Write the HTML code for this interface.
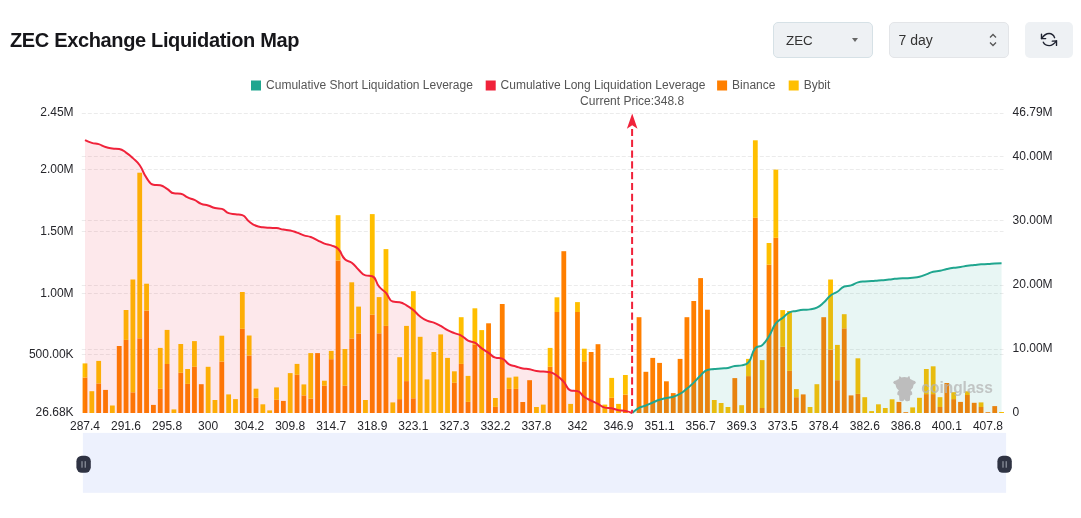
<!DOCTYPE html>
<html><head><meta charset="utf-8"><title>ZEC Exchange Liquidation Map</title>
<style>
html,body{margin:0;padding:0;background:#fff;}
body{width:1081px;height:518px;overflow:hidden;position:relative;-webkit-font-smoothing:antialiased;font-family:"Liberation Sans",Arial,sans-serif;}
svg text{font-family:"Liberation Sans",Arial,sans-serif;}
.gs{will-change:transform;}
.title{position:absolute;left:9.5px;top:27.5px;letter-spacing:-0.35px;font-size:20px;line-height:24px;font-weight:bold;color:#16161a;white-space:nowrap;}
.box{position:absolute;top:22px;height:36px;box-sizing:border-box;background:#EEF1F4;border-radius:5px;font-size:14px;color:#333;}
.sel{left:773px;width:100px;border:1px solid #D6E1E6;}
.sel span{position:absolute;left:12px;top:9.5px;line-height:16px;font-size:13.4px;}
.caret{position:absolute;left:78px;top:15.3px;width:0;height:0;border-left:3.5px solid transparent;border-right:3.5px solid transparent;border-top:4.5px solid #666;}
.day{left:889px;width:120px;border:1px solid #E3E5E8;}
.day span{position:absolute;left:8.5px;top:9px;line-height:16px;}
.ref{left:1025px;width:48px;height:36px;}
</style></head><body>
<div class="title gs">ZEC Exchange Liquidation Map</div>
<div class="box sel gs"><span>ZEC</span><i class="caret"></i></div>
<div class="box day gs"><span>7 day</span>
<svg width="8" height="14" viewBox="0 0 8 14" style="position:absolute;left:99px;top:10px"><path d="M1,4.5 L4,1.5 L7,4.5 M1,9.5 L4,12.5 L7,9.5" fill="none" stroke="#555" stroke-width="1.3"/></svg></div>
<div class="box ref gs"><svg width="24" height="22" viewBox="0 0 24 22" style="position:absolute;left:12px;top:7px"><g fill="none" stroke="#1e2230" stroke-width="1.4" stroke-linecap="round" stroke-linejoin="round"><path d="M17.6,8.7 C16.6,6.1 14.6,4.5 12.1,4.5 C9.3,4.5 6.8,6.3 4.5,9.6"/><path d="M4.5,5.3 L4.5,9.6 L8.7,9.6"/><path d="M6.3,13.2 C7.3,15.3 9.5,16.6 12.3,16.6 C15.2,16.6 17.5,14.5 19.5,11.9"/><path d="M15.3,12.1 L19.5,11.9 L19.5,16.4"/></g></svg></div>
<svg width="1081" height="518" viewBox="0 0 1081 518" style="position:absolute;left:0;top:0" class="gs">
<line x1="81.8" y1="113.5" x2="1003.5" y2="113.5" stroke="#EBEBEB" stroke-width="1" stroke-dasharray="4 2"/>
<line x1="81.8" y1="156.5" x2="1003.5" y2="156.5" stroke="#EBEBEB" stroke-width="1" stroke-dasharray="4 2"/>
<line x1="81.8" y1="169.5" x2="1003.5" y2="169.5" stroke="#EBEBEB" stroke-width="1" stroke-dasharray="4 2"/>
<line x1="81.8" y1="220.5" x2="1003.5" y2="220.5" stroke="#EBEBEB" stroke-width="1" stroke-dasharray="4 2"/>
<line x1="81.8" y1="231.5" x2="1003.5" y2="231.5" stroke="#EBEBEB" stroke-width="1" stroke-dasharray="4 2"/>
<line x1="81.8" y1="285.5" x2="1003.5" y2="285.5" stroke="#EBEBEB" stroke-width="1" stroke-dasharray="4 2"/>
<line x1="81.8" y1="293.5" x2="1003.5" y2="293.5" stroke="#EBEBEB" stroke-width="1" stroke-dasharray="4 2"/>
<line x1="81.8" y1="349.5" x2="1003.5" y2="349.5" stroke="#EBEBEB" stroke-width="1" stroke-dasharray="4 2"/>
<line x1="81.8" y1="354.5" x2="1003.5" y2="354.5" stroke="#EBEBEB" stroke-width="1" stroke-dasharray="4 2"/>
<g shape-rendering="auto">
<rect x="82.60" y="377.5" width="4.8" height="35.5" fill="#FF7F00"/>
<rect x="82.60" y="363.4" width="4.8" height="14.1" fill="#FFBF00"/>
<rect x="89.44" y="391.2" width="4.8" height="21.8" fill="#FFBF00"/>
<rect x="96.28" y="383.4" width="4.8" height="29.6" fill="#FF7F00"/>
<rect x="96.28" y="360.9" width="4.8" height="22.5" fill="#FFBF00"/>
<rect x="103.12" y="389.9" width="4.8" height="23.1" fill="#FF7F00"/>
<rect x="109.96" y="405.5" width="4.8" height="7.5" fill="#FFBF00"/>
<rect x="116.80" y="346.0" width="4.8" height="67.0" fill="#FF7F00"/>
<rect x="123.64" y="339.9" width="4.8" height="73.1" fill="#FF7F00"/>
<rect x="123.64" y="310.0" width="4.8" height="29.9" fill="#FFBF00"/>
<rect x="130.48" y="392.3" width="4.8" height="20.7" fill="#FF7F00"/>
<rect x="130.48" y="279.5" width="4.8" height="112.8" fill="#FFBF00"/>
<rect x="137.32" y="338.3" width="4.8" height="74.7" fill="#FF7F00"/>
<rect x="137.32" y="172.7" width="4.8" height="165.6" fill="#FFBF00"/>
<rect x="144.16" y="310.6" width="4.8" height="102.4" fill="#FF7F00"/>
<rect x="144.16" y="283.7" width="4.8" height="26.9" fill="#FFBF00"/>
<rect x="151.00" y="404.9" width="4.8" height="8.1" fill="#FF7F00"/>
<rect x="157.84" y="388.8" width="4.8" height="24.2" fill="#FF7F00"/>
<rect x="157.84" y="347.9" width="4.8" height="40.9" fill="#FFBF00"/>
<rect x="164.68" y="364.0" width="4.8" height="49.0" fill="#FF7F00"/>
<rect x="164.68" y="329.9" width="4.8" height="34.1" fill="#FFBF00"/>
<rect x="171.52" y="409.4" width="4.8" height="3.6" fill="#FFBF00"/>
<rect x="178.36" y="372.8" width="4.8" height="40.2" fill="#FF7F00"/>
<rect x="178.36" y="344.0" width="4.8" height="28.8" fill="#FFBF00"/>
<rect x="185.20" y="383.9" width="4.8" height="29.1" fill="#FF7F00"/>
<rect x="185.20" y="369.0" width="4.8" height="14.9" fill="#FFBF00"/>
<rect x="192.04" y="366.8" width="4.8" height="46.2" fill="#FF7F00"/>
<rect x="192.04" y="341.1" width="4.8" height="25.7" fill="#FFBF00"/>
<rect x="198.88" y="384.2" width="4.8" height="28.8" fill="#FF7F00"/>
<rect x="205.72" y="366.8" width="4.8" height="46.2" fill="#FFBF00"/>
<rect x="212.56" y="400.0" width="4.8" height="13.0" fill="#FFBF00"/>
<rect x="219.40" y="361.6" width="4.8" height="51.4" fill="#FF7F00"/>
<rect x="219.40" y="335.7" width="4.8" height="25.9" fill="#FFBF00"/>
<rect x="226.24" y="394.4" width="4.8" height="18.6" fill="#FFBF00"/>
<rect x="233.08" y="399.1" width="4.8" height="13.9" fill="#FFBF00"/>
<rect x="239.92" y="328.8" width="4.8" height="84.2" fill="#FF7F00"/>
<rect x="239.92" y="292.0" width="4.8" height="36.8" fill="#FFBF00"/>
<rect x="246.76" y="355.5" width="4.8" height="57.5" fill="#FF7F00"/>
<rect x="246.76" y="335.5" width="4.8" height="20.0" fill="#FFBF00"/>
<rect x="253.60" y="397.8" width="4.8" height="15.2" fill="#FF7F00"/>
<rect x="253.60" y="388.7" width="4.8" height="9.1" fill="#FFBF00"/>
<rect x="260.44" y="404.3" width="4.8" height="8.7" fill="#FFBF00"/>
<rect x="267.28" y="410.4" width="4.8" height="2.6" fill="#FFBF00"/>
<rect x="274.12" y="399.8" width="4.8" height="13.2" fill="#FF7F00"/>
<rect x="274.12" y="387.4" width="4.8" height="12.4" fill="#FFBF00"/>
<rect x="280.96" y="400.9" width="4.8" height="12.1" fill="#FF7F00"/>
<rect x="287.80" y="373.1" width="4.8" height="39.9" fill="#FFBF00"/>
<rect x="294.64" y="374.8" width="4.8" height="38.2" fill="#FF7F00"/>
<rect x="294.64" y="363.9" width="4.8" height="10.9" fill="#FFBF00"/>
<rect x="301.48" y="395.4" width="4.8" height="17.6" fill="#FF7F00"/>
<rect x="301.48" y="384.4" width="4.8" height="11.0" fill="#FFBF00"/>
<rect x="308.32" y="398.7" width="4.8" height="14.3" fill="#FF7F00"/>
<rect x="308.32" y="353.1" width="4.8" height="45.6" fill="#FFBF00"/>
<rect x="315.16" y="353.1" width="4.8" height="59.9" fill="#FF7F00"/>
<rect x="322.00" y="385.7" width="4.8" height="27.3" fill="#FF7F00"/>
<rect x="322.00" y="380.7" width="4.8" height="5.0" fill="#FFBF00"/>
<rect x="328.84" y="359.2" width="4.8" height="53.8" fill="#FF7F00"/>
<rect x="328.84" y="350.9" width="4.8" height="8.3" fill="#FFBF00"/>
<rect x="335.68" y="260.6" width="4.8" height="152.4" fill="#FF7F00"/>
<rect x="335.68" y="215.2" width="4.8" height="45.4" fill="#FFBF00"/>
<rect x="342.52" y="385.7" width="4.8" height="27.3" fill="#FF7F00"/>
<rect x="342.52" y="349.0" width="4.8" height="36.7" fill="#FFBF00"/>
<rect x="349.36" y="338.5" width="4.8" height="74.5" fill="#FF7F00"/>
<rect x="349.36" y="282.3" width="4.8" height="56.2" fill="#FFBF00"/>
<rect x="356.20" y="333.5" width="4.8" height="79.5" fill="#FF7F00"/>
<rect x="356.20" y="306.6" width="4.8" height="26.9" fill="#FFBF00"/>
<rect x="363.04" y="400.0" width="4.8" height="13.0" fill="#FFBF00"/>
<rect x="369.88" y="314.7" width="4.8" height="98.3" fill="#FF7F00"/>
<rect x="369.88" y="214.1" width="4.8" height="100.6" fill="#FFBF00"/>
<rect x="376.72" y="333.3" width="4.8" height="79.7" fill="#FF7F00"/>
<rect x="376.72" y="297.1" width="4.8" height="36.2" fill="#FFBF00"/>
<rect x="383.56" y="325.9" width="4.8" height="87.1" fill="#FF7F00"/>
<rect x="383.56" y="249.1" width="4.8" height="76.8" fill="#FFBF00"/>
<rect x="390.40" y="402.4" width="4.8" height="10.6" fill="#FFBF00"/>
<rect x="397.24" y="399.1" width="4.8" height="13.9" fill="#FF7F00"/>
<rect x="397.24" y="357.2" width="4.8" height="41.9" fill="#FFBF00"/>
<rect x="404.08" y="381.1" width="4.8" height="31.9" fill="#FF7F00"/>
<rect x="404.08" y="325.9" width="4.8" height="55.2" fill="#FFBF00"/>
<rect x="410.92" y="398.3" width="4.8" height="14.7" fill="#FF7F00"/>
<rect x="410.92" y="291.2" width="4.8" height="107.1" fill="#FFBF00"/>
<rect x="417.76" y="336.8" width="4.8" height="76.2" fill="#FFBF00"/>
<rect x="424.60" y="379.4" width="4.8" height="33.6" fill="#FFBF00"/>
<rect x="431.44" y="352.0" width="4.8" height="61.0" fill="#FFBF00"/>
<rect x="438.28" y="334.4" width="4.8" height="78.6" fill="#FFBF00"/>
<rect x="445.12" y="357.9" width="4.8" height="55.1" fill="#FFBF00"/>
<rect x="451.96" y="382.8" width="4.8" height="30.2" fill="#FF7F00"/>
<rect x="451.96" y="371.3" width="4.8" height="11.5" fill="#FFBF00"/>
<rect x="458.80" y="363.9" width="4.8" height="49.1" fill="#FF7F00"/>
<rect x="458.80" y="317.2" width="4.8" height="46.7" fill="#FFBF00"/>
<rect x="465.64" y="401.9" width="4.8" height="11.1" fill="#FF7F00"/>
<rect x="465.64" y="375.9" width="4.8" height="26.0" fill="#FFBF00"/>
<rect x="472.48" y="344.6" width="4.8" height="68.4" fill="#FF7F00"/>
<rect x="472.48" y="308.3" width="4.8" height="36.3" fill="#FFBF00"/>
<rect x="479.32" y="330.1" width="4.8" height="82.9" fill="#FFBF00"/>
<rect x="486.16" y="323.3" width="4.8" height="89.7" fill="#FF7F00"/>
<rect x="493.00" y="406.9" width="4.8" height="6.1" fill="#FF7F00"/>
<rect x="493.00" y="398.0" width="4.8" height="8.9" fill="#FFBF00"/>
<rect x="499.84" y="304.0" width="4.8" height="109.0" fill="#FF7F00"/>
<rect x="506.68" y="388.9" width="4.8" height="24.1" fill="#FF7F00"/>
<rect x="506.68" y="377.6" width="4.8" height="11.3" fill="#FFBF00"/>
<rect x="513.52" y="388.9" width="4.8" height="24.1" fill="#FF7F00"/>
<rect x="513.52" y="376.6" width="4.8" height="12.3" fill="#FFBF00"/>
<rect x="520.36" y="402.0" width="4.8" height="11.0" fill="#FF7F00"/>
<rect x="527.20" y="380.2" width="4.8" height="32.8" fill="#FF7F00"/>
<rect x="534.04" y="407.0" width="4.8" height="6.0" fill="#FFBF00"/>
<rect x="540.88" y="404.6" width="4.8" height="8.4" fill="#FFBF00"/>
<rect x="547.72" y="366.8" width="4.8" height="46.2" fill="#FF7F00"/>
<rect x="547.72" y="347.9" width="4.8" height="18.9" fill="#FFBF00"/>
<rect x="554.56" y="312.0" width="4.8" height="101.0" fill="#FF7F00"/>
<rect x="554.56" y="297.3" width="4.8" height="14.7" fill="#FFBF00"/>
<rect x="561.40" y="251.2" width="4.8" height="161.8" fill="#FF7F00"/>
<rect x="568.24" y="403.9" width="4.8" height="9.1" fill="#FFBF00"/>
<rect x="575.08" y="312.0" width="4.8" height="101.0" fill="#FF7F00"/>
<rect x="575.08" y="302.1" width="4.8" height="9.9" fill="#FFBF00"/>
<rect x="581.92" y="361.3" width="4.8" height="51.7" fill="#FF7F00"/>
<rect x="581.92" y="348.7" width="4.8" height="12.6" fill="#FFBF00"/>
<rect x="588.76" y="352.0" width="4.8" height="61.0" fill="#FF7F00"/>
<rect x="595.60" y="344.2" width="4.8" height="68.8" fill="#FF7F00"/>
<rect x="602.44" y="404.6" width="4.8" height="8.4" fill="#FFBF00"/>
<rect x="609.28" y="397.8" width="4.8" height="15.2" fill="#FF7F00"/>
<rect x="609.28" y="377.9" width="4.8" height="19.9" fill="#FFBF00"/>
<rect x="616.12" y="403.9" width="4.8" height="9.1" fill="#FFBF00"/>
<rect x="622.96" y="394.6" width="4.8" height="18.4" fill="#FF7F00"/>
<rect x="622.96" y="375.0" width="4.8" height="19.6" fill="#FFBF00"/>
<rect x="636.64" y="317.2" width="4.8" height="95.8" fill="#FF7F00"/>
<rect x="643.48" y="371.8" width="4.8" height="41.2" fill="#FF7F00"/>
<rect x="650.32" y="357.9" width="4.8" height="55.1" fill="#FF7F00"/>
<rect x="657.16" y="362.9" width="4.8" height="50.1" fill="#FF7F00"/>
<rect x="664.00" y="381.3" width="4.8" height="31.7" fill="#FF7F00"/>
<rect x="670.84" y="393.1" width="4.8" height="19.9" fill="#FF7F00"/>
<rect x="677.68" y="358.9" width="4.8" height="54.1" fill="#FF7F00"/>
<rect x="684.52" y="317.2" width="4.8" height="95.8" fill="#FF7F00"/>
<rect x="691.36" y="301.0" width="4.8" height="112.0" fill="#FF7F00"/>
<rect x="698.20" y="278.1" width="4.8" height="134.9" fill="#FF7F00"/>
<rect x="705.04" y="309.7" width="4.8" height="103.3" fill="#FF7F00"/>
<rect x="711.88" y="400.0" width="4.8" height="13.0" fill="#FFBF00"/>
<rect x="718.72" y="403.0" width="4.8" height="10.0" fill="#FFBF00"/>
<rect x="725.56" y="407.0" width="4.8" height="6.0" fill="#FFBF00"/>
<rect x="732.40" y="378.1" width="4.8" height="34.9" fill="#FF7F00"/>
<rect x="739.24" y="405.2" width="4.8" height="7.8" fill="#FFBF00"/>
<rect x="746.08" y="376.1" width="4.8" height="36.9" fill="#FF7F00"/>
<rect x="746.08" y="358.9" width="4.8" height="17.2" fill="#FFBF00"/>
<rect x="752.92" y="217.8" width="4.8" height="195.2" fill="#FF7F00"/>
<rect x="752.92" y="140.3" width="4.8" height="77.5" fill="#FFBF00"/>
<rect x="759.76" y="408.0" width="4.8" height="5.0" fill="#FF7F00"/>
<rect x="759.76" y="360.1" width="4.8" height="47.9" fill="#FFBF00"/>
<rect x="766.60" y="264.7" width="4.8" height="148.3" fill="#FF7F00"/>
<rect x="766.60" y="243.0" width="4.8" height="21.7" fill="#FFBF00"/>
<rect x="773.44" y="237.8" width="4.8" height="175.2" fill="#FF7F00"/>
<rect x="773.44" y="169.6" width="4.8" height="68.2" fill="#FFBF00"/>
<rect x="780.28" y="346.8" width="4.8" height="66.2" fill="#FF7F00"/>
<rect x="780.28" y="310.1" width="4.8" height="36.7" fill="#FFBF00"/>
<rect x="787.12" y="370.9" width="4.8" height="42.1" fill="#FF7F00"/>
<rect x="787.12" y="311.0" width="4.8" height="59.9" fill="#FFBF00"/>
<rect x="793.96" y="397.2" width="4.8" height="15.8" fill="#FF7F00"/>
<rect x="793.96" y="389.1" width="4.8" height="8.1" fill="#FFBF00"/>
<rect x="800.80" y="394.4" width="4.8" height="18.6" fill="#FF7F00"/>
<rect x="807.64" y="407.0" width="4.8" height="6.0" fill="#FFBF00"/>
<rect x="814.48" y="384.2" width="4.8" height="28.8" fill="#FFBF00"/>
<rect x="821.32" y="317.2" width="4.8" height="95.8" fill="#FF7F00"/>
<rect x="828.16" y="349.6" width="4.8" height="63.4" fill="#FF7F00"/>
<rect x="828.16" y="279.5" width="4.8" height="70.1" fill="#FFBF00"/>
<rect x="835.00" y="380.2" width="4.8" height="32.8" fill="#FF7F00"/>
<rect x="835.00" y="344.9" width="4.8" height="35.3" fill="#FFBF00"/>
<rect x="841.84" y="328.3" width="4.8" height="84.7" fill="#FF7F00"/>
<rect x="841.84" y="314.2" width="4.8" height="14.1" fill="#FFBF00"/>
<rect x="848.68" y="395.4" width="4.8" height="17.6" fill="#FF7F00"/>
<rect x="855.52" y="393.9" width="4.8" height="19.1" fill="#FF7F00"/>
<rect x="855.52" y="358.3" width="4.8" height="35.6" fill="#FFBF00"/>
<rect x="862.36" y="397.2" width="4.8" height="15.8" fill="#FFBF00"/>
<rect x="869.20" y="411.1" width="4.8" height="1.9" fill="#FFBF00"/>
<rect x="876.04" y="404.3" width="4.8" height="8.7" fill="#FFBF00"/>
<rect x="882.88" y="408.0" width="4.8" height="5.0" fill="#FFBF00"/>
<rect x="889.72" y="399.3" width="4.8" height="13.7" fill="#FFBF00"/>
<rect x="896.56" y="401.9" width="4.8" height="11.1" fill="#FF7F00"/>
<rect x="903.40" y="412.2" width="4.8" height="0.8" fill="#FF7F00"/>
<rect x="910.24" y="407.4" width="4.8" height="5.6" fill="#FFBF00"/>
<rect x="917.08" y="397.8" width="4.8" height="15.2" fill="#FFBF00"/>
<rect x="923.92" y="394.1" width="4.8" height="18.9" fill="#FF7F00"/>
<rect x="923.92" y="369.0" width="4.8" height="25.1" fill="#FFBF00"/>
<rect x="930.76" y="394.1" width="4.8" height="18.9" fill="#FF7F00"/>
<rect x="930.76" y="366.3" width="4.8" height="27.8" fill="#FFBF00"/>
<rect x="937.60" y="407.0" width="4.8" height="6.0" fill="#FF7F00"/>
<rect x="937.60" y="397.2" width="4.8" height="9.8" fill="#FFBF00"/>
<rect x="944.44" y="383.0" width="4.8" height="30.0" fill="#FF7F00"/>
<rect x="951.28" y="399.1" width="4.8" height="13.9" fill="#FF7F00"/>
<rect x="951.28" y="392.2" width="4.8" height="6.9" fill="#FFBF00"/>
<rect x="958.12" y="401.9" width="4.8" height="11.1" fill="#FF7F00"/>
<rect x="964.96" y="395.0" width="4.8" height="18.0" fill="#FF7F00"/>
<rect x="964.96" y="391.3" width="4.8" height="3.7" fill="#FFBF00"/>
<rect x="971.80" y="402.8" width="4.8" height="10.2" fill="#FF7F00"/>
<rect x="978.64" y="407.0" width="4.8" height="6.0" fill="#FF7F00"/>
<rect x="978.64" y="402.4" width="4.8" height="4.6" fill="#FFBF00"/>
<rect x="985.48" y="412.2" width="4.8" height="0.8" fill="#FF7F00"/>
<rect x="992.32" y="406.1" width="4.8" height="6.9" fill="#FF7F00"/>
<rect x="999.16" y="412.0" width="4.8" height="1.0" fill="#FFBF00"/>
</g>
<path d="M85.00,140.11 C85.00,140.11 88.32,141.82 91.84,142.86 C95.16,143.84 95.37,143.15 98.68,144.16 C102.21,145.24 101.99,145.94 105.52,147.03 C108.83,148.06 108.91,147.92 112.36,148.40 C115.75,148.88 115.99,148.40 119.20,148.96 C122.83,149.60 122.83,150.46 126.04,152.61 C129.67,155.04 129.66,155.15 132.88,158.12 C136.50,161.46 136.94,161.21 139.72,165.22 C143.78,171.07 142.48,172.03 146.56,177.86 C149.32,181.79 149.39,183.90 153.40,184.73 C156.23,185.32 157.02,184.73 160.24,185.32 C163.86,185.99 163.76,186.92 167.08,188.87 C170.60,190.94 170.20,192.93 173.92,193.35 C177.04,193.71 177.56,193.35 180.76,193.71 C184.40,194.12 184.06,195.86 187.60,197.46 C190.90,198.96 191.16,198.39 194.44,199.92 C198.00,201.57 197.67,202.35 201.28,203.82 C204.51,205.13 204.76,204.44 208.12,205.48 C211.60,206.56 211.44,207.17 214.96,208.05 C218.28,208.88 218.64,208.05 221.80,208.89 C225.48,209.88 224.97,211.76 228.64,213.07 C231.81,214.21 232.05,213.70 235.48,214.21 C238.89,214.72 239.43,214.21 242.32,215.10 C246.27,216.32 245.47,218.68 249.16,221.55 C252.31,224.00 252.34,224.24 256.00,225.74 C259.18,227.05 259.39,226.65 262.84,227.17 C266.23,227.68 266.25,227.56 269.68,227.79 C273.09,228.03 273.14,227.79 276.52,228.10 C279.98,228.41 279.91,229.02 283.36,229.60 C286.75,230.17 286.86,229.66 290.20,230.40 C293.70,231.18 293.66,231.41 297.04,232.64 C300.50,233.89 300.38,234.24 303.88,235.36 C307.22,236.43 307.43,235.82 310.72,237.01 C314.27,238.29 314.14,238.65 317.56,240.29 C320.98,241.93 320.86,242.24 324.40,243.57 C327.70,244.81 327.95,244.15 331.24,245.41 C334.79,246.77 335.48,246.18 338.08,248.81 C342.32,253.09 340.69,254.93 344.92,259.24 C347.53,261.89 348.75,260.43 351.76,262.73 C355.59,265.65 355.02,266.37 358.60,269.68 C361.86,272.69 361.59,274.28 365.44,275.37 C368.43,276.21 369.85,275.37 372.28,276.21 C376.69,277.75 375.18,281.90 379.12,286.70 C382.02,290.24 382.85,289.51 385.96,292.89 C389.69,296.93 388.58,300.40 392.80,301.56 C395.42,302.28 396.37,301.56 399.64,302.28 C403.21,303.07 403.23,303.50 406.48,305.35 C410.07,307.38 410.12,307.42 413.32,310.03 C416.96,313.01 416.46,313.65 420.16,316.52 C423.30,318.96 423.38,319.05 427.00,320.65 C430.22,322.07 430.54,321.29 433.84,322.56 C437.38,323.92 437.36,324.05 440.68,325.90 C444.20,327.85 443.97,328.26 447.52,330.14 C450.81,331.90 450.88,331.81 454.36,333.17 C457.72,334.49 458.07,333.80 461.20,335.51 C464.91,337.53 464.31,338.68 468.04,340.65 C471.15,342.30 471.82,341.02 474.88,342.74 C478.66,344.87 478.17,345.73 481.72,348.35 C485.01,350.76 485.18,350.52 488.56,352.82 C492.02,355.17 491.65,356.49 495.40,357.64 C498.49,358.59 499.27,357.64 502.24,358.59 C506.11,359.82 505.27,362.23 509.08,364.41 C512.11,366.15 512.50,365.41 515.92,366.42 C519.34,367.44 519.28,367.77 522.76,368.48 C526.12,369.17 526.23,368.58 529.60,369.22 C533.07,369.89 532.96,370.60 536.44,371.09 C539.80,371.58 539.86,371.31 543.28,371.58 C546.70,371.85 546.90,371.58 550.12,372.18 C553.74,372.86 553.84,373.52 556.96,375.73 C560.68,378.38 560.68,378.54 563.80,381.90 C567.52,385.91 566.44,389.44 570.64,390.47 C573.28,391.11 574.53,390.47 577.48,391.11 C581.37,391.96 580.62,394.49 584.32,397.03 C587.46,399.20 587.72,398.82 591.16,400.54 C594.56,402.24 594.62,402.13 598.00,403.88 C601.46,405.67 601.20,406.93 604.84,407.62 C608.04,408.22 608.32,407.62 611.68,408.22 C615.16,408.85 615.04,409.55 618.52,410.21 C621.88,410.86 622.01,410.21 625.36,410.86 C628.85,411.53 632.20,413.00 632.20,413.00 L632.20,413.0 L85.00,413.0 Z" fill="#F0223A" fill-opacity="0.1"/>
<path d="M632.20,413.00 C632.20,413.00 635.33,409.88 639.04,407.86 C642.17,406.16 642.52,406.86 645.88,405.55 C649.36,404.19 649.28,403.98 652.72,402.52 C656.12,401.08 656.07,400.92 659.56,399.75 C662.91,398.63 662.95,398.70 666.40,397.94 C669.79,397.19 669.94,397.74 673.24,396.73 C676.78,395.65 676.89,395.65 680.08,393.76 C683.73,391.59 683.60,391.31 686.92,388.62 C690.44,385.75 690.49,385.78 693.76,382.64 C697.33,379.21 696.98,378.83 700.60,375.47 C703.82,372.48 703.61,371.02 707.44,369.94 C710.45,369.09 710.86,369.48 714.28,369.09 C717.70,368.71 717.70,368.70 721.12,368.40 C724.54,368.11 724.60,368.40 727.96,367.92 C731.44,367.42 731.32,366.54 734.80,365.94 C738.16,365.36 738.36,365.94 741.64,365.36 C745.20,364.74 746.29,365.15 748.48,362.39 C753.13,356.50 750.66,353.94 755.32,348.07 C757.50,345.32 759.44,347.52 762.16,345.15 C766.28,341.57 766.01,340.93 769.00,336.17 C772.85,330.04 771.58,329.07 775.84,323.37 C778.42,319.92 779.25,320.61 782.68,317.86 C786.09,315.12 785.72,314.17 789.52,312.40 C792.56,310.99 792.93,311.63 796.36,310.99 C799.77,310.35 799.76,310.26 803.20,309.85 C806.60,309.45 806.66,309.85 810.04,309.37 C813.50,308.87 813.79,309.24 816.88,307.70 C820.63,305.84 820.54,305.41 823.72,302.56 C827.38,299.29 826.74,298.49 830.56,295.47 C833.58,293.09 834.16,293.90 837.40,291.76 C841.00,289.40 840.44,287.82 844.24,286.47 C847.28,285.38 847.79,286.37 851.08,285.38 C854.63,284.32 854.37,283.42 857.92,282.38 C861.21,281.42 861.32,281.66 864.76,281.39 C868.16,281.12 868.19,281.34 871.60,281.12 C875.03,280.89 875.02,280.76 878.44,280.49 C881.86,280.23 881.87,280.39 885.28,280.06 C888.71,279.73 888.70,279.59 892.12,279.18 C895.54,278.78 895.53,278.65 898.96,278.44 C902.37,278.22 902.38,278.39 905.80,278.22 C909.22,278.05 909.23,278.11 912.64,277.76 C916.07,277.40 916.15,277.63 919.48,276.80 C922.99,275.93 922.91,275.61 926.32,274.35 C929.75,273.08 929.64,272.68 933.16,271.75 C936.48,270.88 936.62,271.44 940.00,270.76 C943.46,270.08 943.40,269.79 946.84,269.04 C950.24,268.30 950.24,268.29 953.68,267.79 C957.08,267.29 957.12,267.55 960.52,267.04 C963.96,266.53 963.92,266.25 967.36,265.74 C970.76,265.25 970.78,265.40 974.20,265.04 C977.62,264.69 977.61,264.54 981.04,264.32 C984.45,264.11 984.46,264.30 987.88,264.11 C991.30,263.92 991.30,263.77 994.72,263.58 C998.14,263.39 1001.56,263.36 1001.56,263.36 L1001.56,413.0 L632.20,413.0 Z" fill="#20A68F" fill-opacity="0.1"/>
<path d="M85.00,140.11 C85.00,140.11 88.32,141.82 91.84,142.86 C95.16,143.84 95.37,143.15 98.68,144.16 C102.21,145.24 101.99,145.94 105.52,147.03 C108.83,148.06 108.91,147.92 112.36,148.40 C115.75,148.88 115.99,148.40 119.20,148.96 C122.83,149.60 122.83,150.46 126.04,152.61 C129.67,155.04 129.66,155.15 132.88,158.12 C136.50,161.46 136.94,161.21 139.72,165.22 C143.78,171.07 142.48,172.03 146.56,177.86 C149.32,181.79 149.39,183.90 153.40,184.73 C156.23,185.32 157.02,184.73 160.24,185.32 C163.86,185.99 163.76,186.92 167.08,188.87 C170.60,190.94 170.20,192.93 173.92,193.35 C177.04,193.71 177.56,193.35 180.76,193.71 C184.40,194.12 184.06,195.86 187.60,197.46 C190.90,198.96 191.16,198.39 194.44,199.92 C198.00,201.57 197.67,202.35 201.28,203.82 C204.51,205.13 204.76,204.44 208.12,205.48 C211.60,206.56 211.44,207.17 214.96,208.05 C218.28,208.88 218.64,208.05 221.80,208.89 C225.48,209.88 224.97,211.76 228.64,213.07 C231.81,214.21 232.05,213.70 235.48,214.21 C238.89,214.72 239.43,214.21 242.32,215.10 C246.27,216.32 245.47,218.68 249.16,221.55 C252.31,224.00 252.34,224.24 256.00,225.74 C259.18,227.05 259.39,226.65 262.84,227.17 C266.23,227.68 266.25,227.56 269.68,227.79 C273.09,228.03 273.14,227.79 276.52,228.10 C279.98,228.41 279.91,229.02 283.36,229.60 C286.75,230.17 286.86,229.66 290.20,230.40 C293.70,231.18 293.66,231.41 297.04,232.64 C300.50,233.89 300.38,234.24 303.88,235.36 C307.22,236.43 307.43,235.82 310.72,237.01 C314.27,238.29 314.14,238.65 317.56,240.29 C320.98,241.93 320.86,242.24 324.40,243.57 C327.70,244.81 327.95,244.15 331.24,245.41 C334.79,246.77 335.48,246.18 338.08,248.81 C342.32,253.09 340.69,254.93 344.92,259.24 C347.53,261.89 348.75,260.43 351.76,262.73 C355.59,265.65 355.02,266.37 358.60,269.68 C361.86,272.69 361.59,274.28 365.44,275.37 C368.43,276.21 369.85,275.37 372.28,276.21 C376.69,277.75 375.18,281.90 379.12,286.70 C382.02,290.24 382.85,289.51 385.96,292.89 C389.69,296.93 388.58,300.40 392.80,301.56 C395.42,302.28 396.37,301.56 399.64,302.28 C403.21,303.07 403.23,303.50 406.48,305.35 C410.07,307.38 410.12,307.42 413.32,310.03 C416.96,313.01 416.46,313.65 420.16,316.52 C423.30,318.96 423.38,319.05 427.00,320.65 C430.22,322.07 430.54,321.29 433.84,322.56 C437.38,323.92 437.36,324.05 440.68,325.90 C444.20,327.85 443.97,328.26 447.52,330.14 C450.81,331.90 450.88,331.81 454.36,333.17 C457.72,334.49 458.07,333.80 461.20,335.51 C464.91,337.53 464.31,338.68 468.04,340.65 C471.15,342.30 471.82,341.02 474.88,342.74 C478.66,344.87 478.17,345.73 481.72,348.35 C485.01,350.76 485.18,350.52 488.56,352.82 C492.02,355.17 491.65,356.49 495.40,357.64 C498.49,358.59 499.27,357.64 502.24,358.59 C506.11,359.82 505.27,362.23 509.08,364.41 C512.11,366.15 512.50,365.41 515.92,366.42 C519.34,367.44 519.28,367.77 522.76,368.48 C526.12,369.17 526.23,368.58 529.60,369.22 C533.07,369.89 532.96,370.60 536.44,371.09 C539.80,371.58 539.86,371.31 543.28,371.58 C546.70,371.85 546.90,371.58 550.12,372.18 C553.74,372.86 553.84,373.52 556.96,375.73 C560.68,378.38 560.68,378.54 563.80,381.90 C567.52,385.91 566.44,389.44 570.64,390.47 C573.28,391.11 574.53,390.47 577.48,391.11 C581.37,391.96 580.62,394.49 584.32,397.03 C587.46,399.20 587.72,398.82 591.16,400.54 C594.56,402.24 594.62,402.13 598.00,403.88 C601.46,405.67 601.20,406.93 604.84,407.62 C608.04,408.22 608.32,407.62 611.68,408.22 C615.16,408.85 615.04,409.55 618.52,410.21 C621.88,410.86 622.01,410.21 625.36,410.86 C628.85,411.53 632.20,413.00 632.20,413.00" fill="none" stroke="#F0223A" stroke-width="2" stroke-linejoin="round"/>
<path d="M632.20,413.00 C632.20,413.00 635.33,409.88 639.04,407.86 C642.17,406.16 642.52,406.86 645.88,405.55 C649.36,404.19 649.28,403.98 652.72,402.52 C656.12,401.08 656.07,400.92 659.56,399.75 C662.91,398.63 662.95,398.70 666.40,397.94 C669.79,397.19 669.94,397.74 673.24,396.73 C676.78,395.65 676.89,395.65 680.08,393.76 C683.73,391.59 683.60,391.31 686.92,388.62 C690.44,385.75 690.49,385.78 693.76,382.64 C697.33,379.21 696.98,378.83 700.60,375.47 C703.82,372.48 703.61,371.02 707.44,369.94 C710.45,369.09 710.86,369.48 714.28,369.09 C717.70,368.71 717.70,368.70 721.12,368.40 C724.54,368.11 724.60,368.40 727.96,367.92 C731.44,367.42 731.32,366.54 734.80,365.94 C738.16,365.36 738.36,365.94 741.64,365.36 C745.20,364.74 746.29,365.15 748.48,362.39 C753.13,356.50 750.66,353.94 755.32,348.07 C757.50,345.32 759.44,347.52 762.16,345.15 C766.28,341.57 766.01,340.93 769.00,336.17 C772.85,330.04 771.58,329.07 775.84,323.37 C778.42,319.92 779.25,320.61 782.68,317.86 C786.09,315.12 785.72,314.17 789.52,312.40 C792.56,310.99 792.93,311.63 796.36,310.99 C799.77,310.35 799.76,310.26 803.20,309.85 C806.60,309.45 806.66,309.85 810.04,309.37 C813.50,308.87 813.79,309.24 816.88,307.70 C820.63,305.84 820.54,305.41 823.72,302.56 C827.38,299.29 826.74,298.49 830.56,295.47 C833.58,293.09 834.16,293.90 837.40,291.76 C841.00,289.40 840.44,287.82 844.24,286.47 C847.28,285.38 847.79,286.37 851.08,285.38 C854.63,284.32 854.37,283.42 857.92,282.38 C861.21,281.42 861.32,281.66 864.76,281.39 C868.16,281.12 868.19,281.34 871.60,281.12 C875.03,280.89 875.02,280.76 878.44,280.49 C881.86,280.23 881.87,280.39 885.28,280.06 C888.71,279.73 888.70,279.59 892.12,279.18 C895.54,278.78 895.53,278.65 898.96,278.44 C902.37,278.22 902.38,278.39 905.80,278.22 C909.22,278.05 909.23,278.11 912.64,277.76 C916.07,277.40 916.15,277.63 919.48,276.80 C922.99,275.93 922.91,275.61 926.32,274.35 C929.75,273.08 929.64,272.68 933.16,271.75 C936.48,270.88 936.62,271.44 940.00,270.76 C943.46,270.08 943.40,269.79 946.84,269.04 C950.24,268.30 950.24,268.29 953.68,267.79 C957.08,267.29 957.12,267.55 960.52,267.04 C963.96,266.53 963.92,266.25 967.36,265.74 C970.76,265.25 970.78,265.40 974.20,265.04 C977.62,264.69 977.61,264.54 981.04,264.32 C984.45,264.11 984.46,264.30 987.88,264.11 C991.30,263.92 991.30,263.77 994.72,263.58 C998.14,263.39 1001.56,263.36 1001.56,263.36" fill="none" stroke="#20A68F" stroke-width="2" stroke-linejoin="round"/>
<line x1="632.1" y1="128.9" x2="632.1" y2="413.0" stroke="#F0223A" stroke-width="2" stroke-dasharray="7.2 3.6"/>
<path d="M632.2,113.4 L637.5,128.7 L632.2,125.3 L626.9,128.7 Z" fill="#F0223A"/>
<text x="632.1" y="105" font-size="12" text-anchor="middle" fill="#555">Current Price:348.8</text>
<g fill="#BDBDBD">
<path d="M899.6,375.9 Q900.6,376.6 901.4,377.5 Q904.4,376.5 907.5,377.5 Q908.3,376.6 909.3,376.1 Q909.9,377.6 910.2,378.9 Q912.1,379.6 913.0,380.6 Q915.2,380.6 915.9,382.2 Q915.6,384.0 913.7,384.4 Q913.4,388.4 910.6,390.3 Q912.6,391.8 912.3,394.3 Q911.6,395.5 910.2,395.4 L909.9,400.6 Q907.6,402.0 905.5,400.8 L904.5,399.2 L903.6,400.8 Q901.5,402.0 899.4,400.6 L899.1,395.4 Q897.6,395.5 897.2,394.3 Q897.1,391.8 898.9,390.3 Q895.9,388.4 895.6,384.4 Q893.5,384.0 893.1,382.2 Q893.8,380.6 896.1,380.6 Q896.9,379.6 898.8,378.9 Q899.0,377.4 899.6,375.9 Z"/>
</g>
<text x="921.3" y="393.4" font-size="15.6" font-weight="bold" fill="#B4B4B4" fill-opacity="0.75" textLength="71.5" lengthAdjust="spacingAndGlyphs">coinglass</text>
<text x="73.6" y="115.9" font-size="12" text-anchor="end" fill="#26262b">2.45M</text>
<text x="73.6" y="172.8" font-size="12" text-anchor="end" fill="#26262b">2.00M</text>
<text x="73.6" y="234.7" font-size="12" text-anchor="end" fill="#26262b">1.50M</text>
<text x="73.6" y="296.7" font-size="12" text-anchor="end" fill="#26262b">1.00M</text>
<text x="73.6" y="357.8" font-size="12" text-anchor="end" fill="#26262b">500.00K</text>
<text x="73.6" y="415.8" font-size="12" text-anchor="end" fill="#26262b">26.68K</text>
<text x="1012.6" y="116.2" font-size="12" fill="#26262b">46.79M</text>
<text x="1012.6" y="159.9" font-size="12" fill="#26262b">40.00M</text>
<text x="1012.6" y="223.6" font-size="12" fill="#26262b">30.00M</text>
<text x="1012.6" y="288.4" font-size="12" fill="#26262b">20.00M</text>
<text x="1012.6" y="351.9" font-size="12" fill="#26262b">10.00M</text>
<text x="1012.6" y="415.7" font-size="12" fill="#26262b">0</text>
<text x="85.0" y="429.8" font-size="12" text-anchor="middle" fill="#26262b">287.4</text>
<text x="126.0" y="429.8" font-size="12" text-anchor="middle" fill="#26262b">291.6</text>
<text x="167.1" y="429.8" font-size="12" text-anchor="middle" fill="#26262b">295.8</text>
<text x="208.1" y="429.8" font-size="12" text-anchor="middle" fill="#26262b">300</text>
<text x="249.2" y="429.8" font-size="12" text-anchor="middle" fill="#26262b">304.2</text>
<text x="290.2" y="429.8" font-size="12" text-anchor="middle" fill="#26262b">309.8</text>
<text x="331.2" y="429.8" font-size="12" text-anchor="middle" fill="#26262b">314.7</text>
<text x="372.3" y="429.8" font-size="12" text-anchor="middle" fill="#26262b">318.9</text>
<text x="413.3" y="429.8" font-size="12" text-anchor="middle" fill="#26262b">323.1</text>
<text x="454.4" y="429.8" font-size="12" text-anchor="middle" fill="#26262b">327.3</text>
<text x="495.4" y="429.8" font-size="12" text-anchor="middle" fill="#26262b">332.2</text>
<text x="536.4" y="429.8" font-size="12" text-anchor="middle" fill="#26262b">337.8</text>
<text x="577.5" y="429.8" font-size="12" text-anchor="middle" fill="#26262b">342</text>
<text x="618.5" y="429.8" font-size="12" text-anchor="middle" fill="#26262b">346.9</text>
<text x="659.6" y="429.8" font-size="12" text-anchor="middle" fill="#26262b">351.1</text>
<text x="700.6" y="429.8" font-size="12" text-anchor="middle" fill="#26262b">356.7</text>
<text x="741.6" y="429.8" font-size="12" text-anchor="middle" fill="#26262b">369.3</text>
<text x="782.7" y="429.8" font-size="12" text-anchor="middle" fill="#26262b">373.5</text>
<text x="823.7" y="429.8" font-size="12" text-anchor="middle" fill="#26262b">378.4</text>
<text x="864.8" y="429.8" font-size="12" text-anchor="middle" fill="#26262b">382.6</text>
<text x="905.8" y="429.8" font-size="12" text-anchor="middle" fill="#26262b">386.8</text>
<text x="946.8" y="429.8" font-size="12" text-anchor="middle" fill="#26262b">400.1</text>
<text x="987.9" y="429.8" font-size="12" text-anchor="middle" fill="#26262b">407.8</text>
<rect x="82.9" y="432.9" width="923.2" height="59.9" fill="#EDF1FD"/>
<rect x="76.4" y="455.7" width="14.4" height="17.1" rx="5.5" fill="#2F3343"/>
<line x1="82.0" y1="461.2" x2="82.0" y2="467.7" stroke="#A3A8B3" stroke-width="1"/>
<line x1="85.2" y1="461.2" x2="85.2" y2="467.7" stroke="#A3A8B3" stroke-width="1"/>
<rect x="997.4" y="455.7" width="14.4" height="17.1" rx="5.5" fill="#2F3343"/>
<line x1="1003.0" y1="461.2" x2="1003.0" y2="467.7" stroke="#A3A8B3" stroke-width="1"/>
<line x1="1006.2" y1="461.2" x2="1006.2" y2="467.7" stroke="#A3A8B3" stroke-width="1"/>
<rect x="251" y="80.5" width="10" height="10" fill="#20A68F"/>
<text x="266.1" y="89.3" font-size="12" fill="#555">Cumulative Short Liquidation Leverage</text>
<rect x="485.7" y="80.5" width="10" height="10" fill="#F0223A"/>
<text x="500.6" y="89.3" font-size="12" fill="#555">Cumulative Long Liquidation Leverage</text>
<rect x="717.1" y="80.5" width="10" height="10" fill="#FF7F00"/>
<text x="732.1" y="89.3" font-size="12" fill="#555">Binance</text>
<rect x="788.7" y="80.5" width="10" height="10" fill="#FFBF00"/>
<text x="803.7" y="89.3" font-size="12" fill="#555">Bybit</text>
</svg>
</body></html>
